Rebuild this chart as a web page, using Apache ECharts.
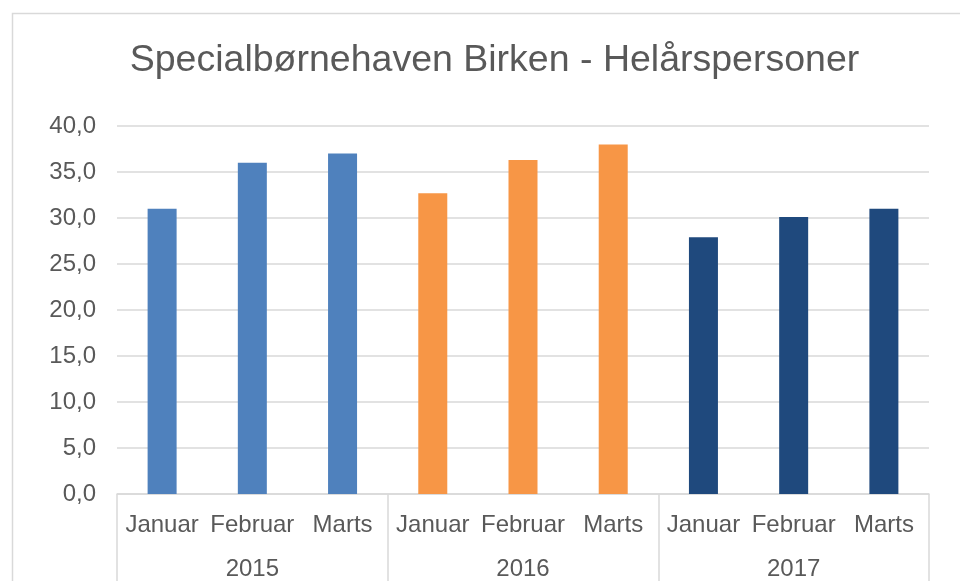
<!DOCTYPE html>
<html>
<head>
<meta charset="utf-8">
<script src="https://cdn.jsdelivr.net/npm/echarts@6/dist/echarts.min.js"></script>
<style>
html,body{margin:0;padding:0;background:#fff;}
#c{width:960px;height:581px;}
</style>
</head>
<body>
<div id="c"></div>
<script>
var titleText = 'Specialbørnehaven Birken - Helårspersoner';
var months = ['Januar','Februar','Marts','Januar','Februar','Marts','Januar','Februar','Marts'];
var years = ['2015','2016','2017'];
var values = [31.0, 36.0, 37.0, 32.7, 36.3, 38.0, 27.9, 30.1, 31.0];
var yearColors = ['#4F81BD','#F79646','#1F497D'];
var yTicks = [0, 5, 10, 15, 20, 25, 30, 35, 40];

var FONT = '"Liberation Sans", Arial, sans-serif';
var TXT = '#595959';
var LINE = '#d9d9d9';

var chart = echarts.init(document.getElementById('c'), null, {renderer:'canvas'});
chart.setOption({
  animation: false,
  backgroundColor: '#fff',
  textStyle: {fontFamily: FONT},
  graphic: [{
    type: 'rect',
    shape: {x: 12.5, y: 13.5, width: 1000, height: 700},
    style: {fill: 'none', stroke: LINE, lineWidth: 1.5},
    silent: true
  }],
  title: {
    text: titleText,
    left: 489.5, top: 37, textAlign: 'center',
    textStyle: {fontFamily: FONT, fontSize: 37.5, fontWeight: 'normal', color: TXT}
  },
  grid: {left: 117, right: 31, top: 126, bottom: 86, containLabel: false},
  xAxis: [{
    type: 'category',
    data: months,
    axisLine: {show: true, lineStyle: {color: LINE, width: 1.5}},
    axisTick: {show: false},
    axisLabel: {interval: 0, margin: 19, fontFamily: FONT, fontSize: 24, color: TXT}
  }, {
    type: 'category',
    data: years,
    position: 'bottom',
    boundaryGap: true,
    axisLine: {show: false},
    axisTick: {show: true, length: 100, interval: 0, lineStyle: {color: LINE, width: 1.5}},
    axisLabel: {interval: 0, margin: 63, fontFamily: FONT, fontSize: 24, color: TXT},
    splitLine: {show: false}
  }],
  yAxis: {
    type: 'value',
    min: yTicks[0], max: yTicks[yTicks.length-1], interval: yTicks[1]-yTicks[0],
    axisLine: {show: false},
    axisTick: {show: false},
    splitLine: {lineStyle: {color: LINE, width: 1.5}},
    axisLabel: {
      margin: 21, fontFamily: FONT, fontSize: 24, color: TXT,
      padding: [4, 0, 0, 0],
      formatter: function(v){ return v.toFixed(1).replace('.', ','); }
    }
  },
  series: [{
    type: 'bar',
    xAxisIndex: 0,
    barWidth: 29,
    data: values.map(function(v, i){
      return {value: v, itemStyle: {color: yearColors[Math.floor(i / 3)]}};
    })
  }]
});
</script>
</body>
</html>
